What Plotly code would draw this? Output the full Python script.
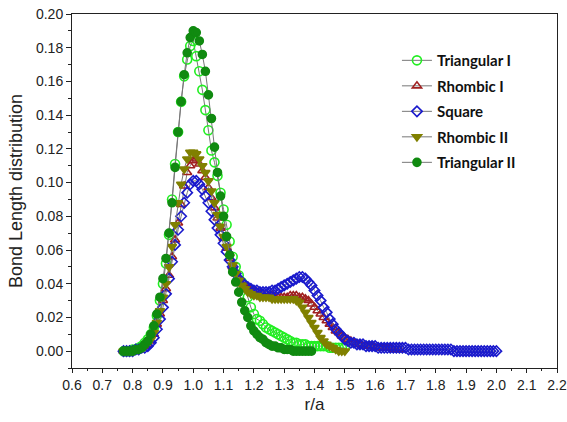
import numpy as np
import plotly.graph_objects as go

x_start = 0.77
x_step = 0.01

tri1 = [0.000, 0.000, 0.000, 0.001, 0.001, 0.002, 0.003, 0.005, 0.007, 0.010,
        0.014, 0.021, 0.030, 0.040, 0.052, 0.069, 0.090, 0.111, 0.130, 0.148,
        0.163, 0.173, 0.181, 0.184, 0.175, 0.166, 0.155, 0.143, 0.131, 0.119,
        0.112, 0.104, 0.094, 0.084, 0.075, 0.065, 0.056, 0.050, 0.045, 0.041,
        0.038, 0.032, 0.026, 0.022, 0.019, 0.018, 0.016, 0.014, 0.013, 0.012,
        0.011, 0.010, 0.009, 0.008, 0.007, 0.006, 0.005, 0.005, 0.004, 0.004,
        0.004, 0.003, 0.003, 0.003, 0.003, 0.003, 0.003, 0.003, 0.002, 0.002,
        0.002, 0.002, 0.002, 0.002]

rho1 = [0.000, 0.000, 0.000, 0.000, 0.001, 0.001, 0.002, 0.003, 0.004, 0.006,
        0.010, 0.016, 0.022, 0.030, 0.037, 0.045, 0.056, 0.066, 0.076, 0.087,
        0.098, 0.106, 0.110, 0.113, 0.114, 0.111, 0.107, 0.103, 0.097, 0.091,
        0.085, 0.079, 0.073, 0.067, 0.061, 0.055, 0.050, 0.046, 0.043, 0.040,
        0.038, 0.037, 0.036, 0.035, 0.035, 0.034, 0.034, 0.034, 0.033, 0.033,
        0.032, 0.032, 0.032, 0.032, 0.032, 0.033, 0.033, 0.033, 0.032, 0.032,
        0.031, 0.030, 0.028, 0.026, 0.024, 0.022, 0.020, 0.018, 0.016, 0.014,
        0.012, 0.011, 0.009, 0.008, 0.007, 0.006, 0.005, 0.004, 0.004, 0.003,
        0.003, 0.003, 0.003, 0.002, 0.002, 0.002, 0.002, 0.002, 0.002, 0.001,
        0.001, 0.001]

square = [0.000, 0.000, 0.000, 0.000, 0.001, 0.001, 0.002, 0.002, 0.003, 0.005,
          0.008, 0.013, 0.019, 0.026, 0.034, 0.043, 0.053, 0.063, 0.072, 0.080,
          0.088, 0.094, 0.099, 0.101, 0.101, 0.099, 0.096, 0.092, 0.088, 0.083,
          0.078, 0.073, 0.069, 0.064, 0.059, 0.054, 0.050, 0.046, 0.043, 0.041,
          0.039, 0.038, 0.037, 0.036, 0.036, 0.035, 0.035, 0.035, 0.035, 0.036,
          0.036, 0.037, 0.038, 0.039, 0.040, 0.041, 0.042, 0.043, 0.044, 0.044,
          0.043, 0.041, 0.039, 0.036, 0.033, 0.030, 0.026, 0.023, 0.019, 0.016,
          0.013, 0.011, 0.009, 0.007, 0.006, 0.005, 0.005, 0.004, 0.004, 0.004,
          0.003, 0.003, 0.003, 0.003,
          0.002, 0.002, 0.002, 0.002, 0.002, 0.002, 0.002, 0.002, 0.002, 0.002,
          0.001, 0.001, 0.001, 0.001, 0.001, 0.001, 0.001, 0.001, 0.001, 0.001,
          0.001, 0.001, 0.001, 0.001, 0.001,
          0.000, 0.000, 0.000, 0.000, 0.000, 0.000, 0.000, 0.000, 0.000, 0.000,
          0.000, 0.000, 0.000, 0.000, 0.000]

rho2 = [0.000, 0.000, 0.000, 0.000, 0.001, 0.001, 0.002, 0.003, 0.005, 0.007,
        0.011, 0.017, 0.024, 0.032, 0.040, 0.050, 0.062, 0.075, 0.088, 0.099,
        0.108, 0.114, 0.118, 0.118, 0.117, 0.114, 0.110, 0.106, 0.101, 0.095,
        0.088, 0.081, 0.074, 0.068, 0.062, 0.056, 0.051, 0.046, 0.042, 0.039,
        0.037, 0.035, 0.034, 0.033, 0.033, 0.032, 0.032, 0.032, 0.032, 0.031,
        0.031, 0.031, 0.031, 0.031, 0.031, 0.031, 0.031, 0.030, 0.029, 0.026,
        0.023, 0.020, 0.017, 0.014, 0.011, 0.008, 0.006, 0.004, 0.003, 0.002,
        0.001, 0.000, 0.000, 0.000]

tri2 = [0.000, 0.000, 0.000, 0.000, 0.001, 0.001, 0.002, 0.004, 0.006, 0.010,
        0.015, 0.022, 0.032, 0.043, 0.055, 0.070, 0.088, 0.109, 0.130, 0.148,
        0.164, 0.177, 0.186, 0.190, 0.189, 0.184, 0.176, 0.166, 0.152, 0.138,
        0.121, 0.106, 0.092, 0.080, 0.068, 0.057, 0.047, 0.041, 0.035, 0.029,
        0.024, 0.020, 0.015, 0.012, 0.010, 0.008, 0.007, 0.005, 0.004, 0.003,
        0.003, 0.002, 0.002, 0.001, 0.001, 0.001, 0.000, 0.000, 0.000, 0.000,
        0.000, 0.000, 0.000]

names = ["Triangular I", "Rhombic I", "Square", "Rhombic II", "Triangular II"]
series = [tri1, rho1, square, rho2, tri2]
symbols = ["circle-open", "triangle-up-open", "diamond-open", "triangle-down", "circle"]
colors = ["#22ee22", "#a02020", "#1a1acc", "#808000", "#108a10"]
sizes = [9, 8, 8, 8, 8]


def xgrid(vals):
    return np.round(x_start + x_step * np.arange(len(vals)), 2)


fig = go.Figure()
for name, vals, sym, col, sz in zip(names, series, symbols, colors, sizes):
    fig.add_trace(go.Scatter(
        x=xgrid(vals), y=vals, name=name, mode="lines+markers",
        line=dict(color="#777777", width=1),
        marker=dict(symbol=sym, size=sz, color=col,
                    line=dict(color=col, width=1.6)),
        legendgroup=name,
    ))

axis_font = dict(family="Liberation Sans, Arial, sans-serif", size=14, color="#222222")

fig.update_layout(
    width=567, height=422,
    margin=dict(l=72, r=10, t=14, b=54),
    paper_bgcolor="white", plot_bgcolor="white",
    showlegend=True,
    legend=dict(x=0.67, y=0.915, xanchor="left", yanchor="top",
                bgcolor="rgba(0,0,0,0)", tracegroupgap=3,
                font=dict(family="Lato, sans-serif", size=15, color="#111111",
                          weight="bold")),
    xaxis=dict(range=[0.6, 2.2], dtick=0.1, tick0=0.6, tickformat=".1f",
               automargin=False,
               showgrid=False, zeroline=False,
               showline=True, linecolor="#222222", linewidth=1, mirror=True,
               ticks="outside", ticklen=4, tickcolor="#222222",
               minor=dict(dtick=0.05, ticks="outside", ticklen=2, tickcolor="#222222"),
               tickfont=axis_font,
               title=dict(text="r/a", font=dict(family="Liberation Sans, Arial, sans-serif",
                                                size=17, color="#222222"), standoff=6)),
    yaxis=dict(range=[-0.01, 0.20], dtick=0.02, tick0=0, tickformat=".2f",
               automargin=False,
               showgrid=False, zeroline=False,
               showline=True, linecolor="#222222", linewidth=1, mirror=True,
               ticks="outside", ticklen=5, tickcolor="#222222",
               minor=dict(dtick=0.01, ticks="outside", ticklen=3, tickcolor="#222222"),
               tickfont=axis_font,
               title=dict(text="Bond Length distribution",
                          font=dict(family="Liberation Sans, Arial, sans-serif",
                                    size=18, color="#222222"), standoff=8)),
)

fig.write_html("out.html")
